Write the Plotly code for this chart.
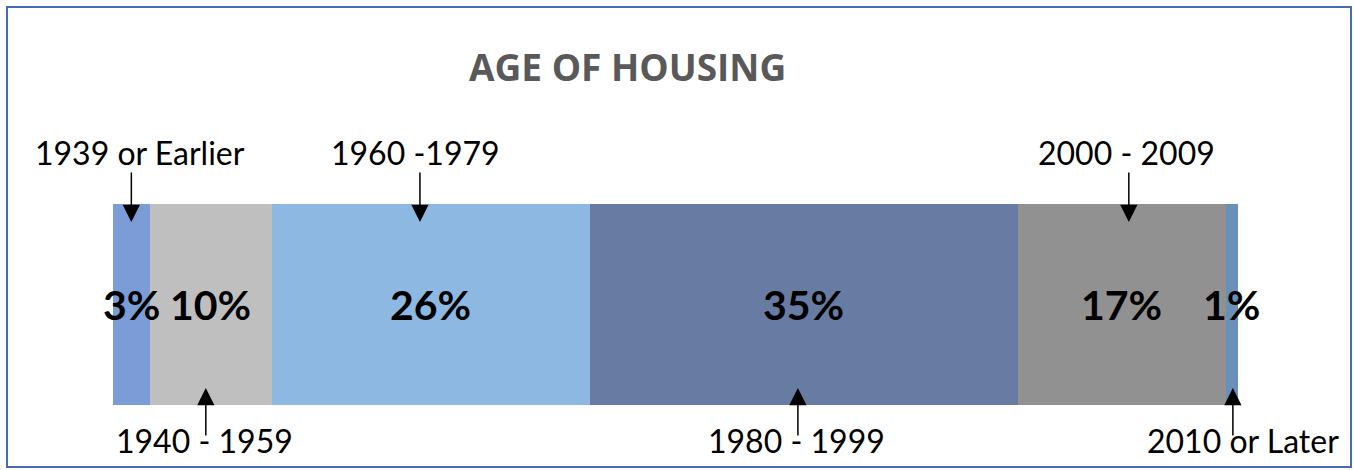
import plotly.graph_objects as go

# ---- data ----
periods = ["1939 or Earlier", "1940 - 1959", "1960 -1979", "1980 - 1999", "2000 - 2009", "2010 or Later"]
shares = [3, 10, 26, 35, 17, 1]
title_text = "AGE OF HOUSING"

# ---- style ----
colors = ["#7b9cd6", "#bfbfbf", "#8cb8e2", "#687ba3", "#919191", "#6a90ba"]
label_side = ["top", "bottom", "top", "bottom", "top", "bottom"]
text_shift = [9, -6, -15, -7, 5, 11]
arrow_shift = [0, -5, -11, -6, 7, 1]

W, H = 1354, 470
L, R, T, B = 113, 116, 204, 65
ph = H - T - B


def py(pix):
    return (H - B - pix) / ph


def px(pix):
    return (pix - L) / (W - L - R)


fig = go.Figure()
for name, v, c in zip(periods, shares, colors):
    fig.add_trace(go.Bar(x=[v], y=[0], orientation="h", name=name,
                         marker=dict(color=c, line=dict(width=0)),
                         hoverinfo="x+name"))

total = sum(shares)
annotations = []
cum = 0
for i, (name, v) in enumerate(zip(periods, shares)):
    mid = cum + v / 2
    cum += v
    annotations.append(dict(x=mid, y=0, xref="x", yref="y", text=f"<b>{v}%</b>",
                            showarrow=False, xanchor="center", yanchor="middle",
                            font=dict(family="Lato", size=41, color="#000000")))
    if label_side[i] == "top":
        ty, tip, ay = py(152), py(222), -51
    else:
        ty, tip, ay = py(440), py(388), 49
    annotations.append(dict(x=mid, y=ty, xref="x", yref="paper", text=name,
                            showarrow=False, xshift=text_shift[i],
                            xanchor="center", yanchor="middle",
                            font=dict(family="Lato", size=32, color="#000000")))
    annotations.append(dict(x=mid, y=tip, xref="x", yref="paper", text="",
                            showarrow=True, ax=0, ay=ay, xshift=arrow_shift[i],
                            arrowhead=2, arrowsize=2.3, arrowwidth=1.5,
                            arrowcolor="#000000", standoff=0))

annotations.append(dict(x=px(627), y=py(66), xref="paper", yref="paper",
                        text=f"<b>{title_text}</b>", showarrow=False,
                        xanchor="center", yanchor="middle",
                        font=dict(family="Open Sans", size=37, color="#595959")))

fig.update_layout(
    width=W, height=H,
    margin=dict(l=L, r=R, t=T, b=B),
    barmode="stack", bargap=0,
    showlegend=False,
    paper_bgcolor="#ffffff", plot_bgcolor="#ffffff",
    xaxis=dict(range=[0, total], visible=False, fixedrange=True),
    yaxis=dict(range=[-0.5, 0.5], visible=False, fixedrange=True),
    annotations=annotations,
    shapes=[dict(type="rect", xref="paper", yref="paper",
                 x0=px(7), x1=px(1351), y0=py(467), y1=py(7),
                 line=dict(color="#4a6ab4", width=2), fillcolor="rgba(0,0,0,0)")],
)

fig.write_html("out.html", config={"displayModeBar": False},
               post_script="document.body.style.margin='0px';document.body.style.overflow='hidden';")
